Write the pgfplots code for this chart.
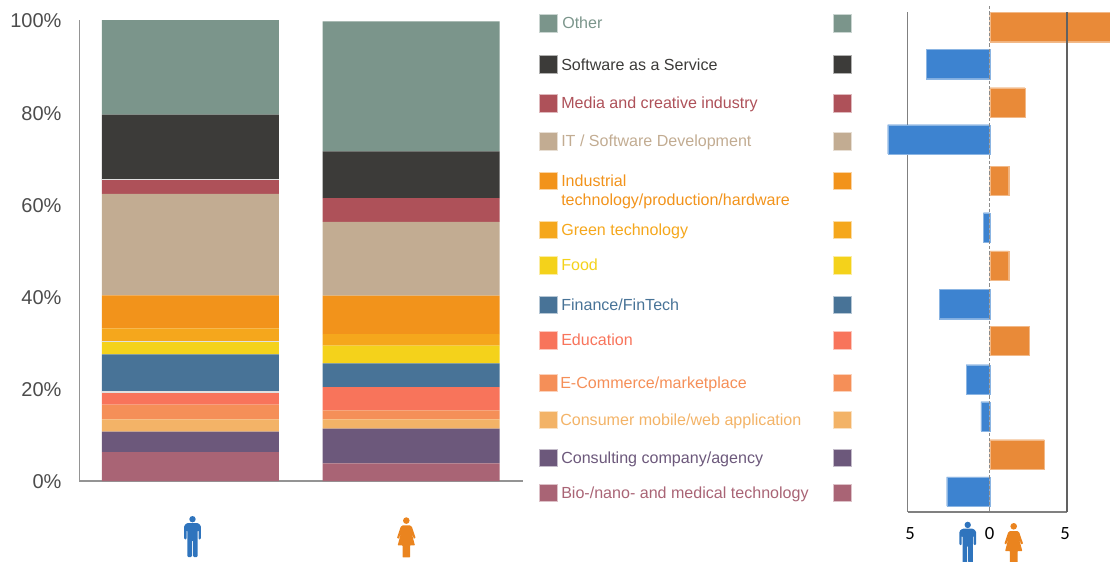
\documentclass[border=0pt]{standalone}
\usepackage{fontspec}
\setmainfont{Liberation Sans}
\newfontfamily\calib{Carlito}
\usepackage{pgfplots}
\usepackage{pgfplotstable}
\pgfplotsset{compat=1.18}

\definecolor{cOther}{HTML}{7B958B}
\definecolor{cSaas}{HTML}{3C3B39}
\definecolor{cMedia}{HTML}{AE5159}
\definecolor{cIT}{HTML}{C2AC92}
\definecolor{cInd}{HTML}{F2931B}
\definecolor{cGreen}{HTML}{F5A71C}
\definecolor{cFood}{HTML}{F4D21B}
\definecolor{cFin}{HTML}{487397}
\definecolor{cEdu}{HTML}{F8745B}
\definecolor{cEcom}{HTML}{F58F58}
\definecolor{cCons}{HTML}{F3B367}
\definecolor{cAgency}{HTML}{6C587B}
\definecolor{cBio}{HTML}{A96475}
\definecolor{cMale}{HTML}{3D83D0}
\definecolor{cFemale}{HTML}{E98A38}
\definecolor{cMaleIcon}{HTML}{2F74BD}
\definecolor{cFemaleIcon}{HTML}{EA841F}

% share of each sector, percent (0 = men, 1 = women)
\pgfplotstableread{
x  bio  agency cons ecom edu  fin  food green ind  it    media saas  other
0  6.29 4.42   2.67 3.19 2.67 8.24 2.67 2.97  7.15 22.04 3.03  14.15 20.52
1  3.84 7.52   2.02 1.95 5.05 5.14 3.84 2.51  8.32 16.04 5.11  10.19 28.17
}\shares

% difference, y = pixel row of the bar centre
\pgfplotstableread{
y      v
64.0   -4.10
139.3  -6.60
227.3  -0.41
304.0  -3.26
379.3  -1.53
416.3  -0.58
491.5  -2.78
}\menmore
\pgfplotstableread{
y      v
27.0   7.78
102.3  2.28
180.8  1.23
265.5  1.23
340.8  2.56
454.3  3.53
}\womenmore

\newcommand{\seg}[2]{\addplot[fill=#1,draw=none] table[x=x,y=#2]{\shares};}
\newcommand{\swatch}[3][548]{\addplot[only marks,mark=square*,mark size=6.6pt,
  mark options={fill=#2,draw=#2!40,line width=0.3pt}] coordinates {(#1,#3) (842,#3)};}
\newcommand{\lab}[4][561]{\node[anchor=base west,inner sep=0pt,text=#2,font=\fontsize{12.05}{14}\selectfont] at (axis cs:#1,#3) {#4};}

% x centre, top row, colour, in picture pixels
\newcommand{\maleicon}[4][1]{\begin{scope}[x=0.75pt,y=-0.75pt,shift={(#2*0.75pt,-#3*0.75pt)},scale=#1]
  \fill[#4] (0,3.2) circle (3.2);
  \fill[#4,rounded corners=0.8pt] (-5.5,7) -- (5.5,7) -- (8.3,9.5) -- (8.3,23.5) -- (6,23.5)
    -- (6,14) -- (5.2,14) -- (5.2,41) -- (0.5,41) -- (0.5,24) -- (-0.5,24) -- (-0.5,41)
    -- (-5.2,41) -- (-5.2,14) -- (-6,14) -- (-6,23.5) -- (-8.3,23.5) -- (-8.3,9.5) -- cycle;
\end{scope}}
\newcommand{\femaleicon}[4][1]{\begin{scope}[x=0.75pt,y=-0.75pt,shift={(#2*0.75pt,-#3*0.75pt)},scale=#1]
  \fill[#4] (0,3.3) circle (3.3);
  \fill[#4,rounded corners=0.4pt] (-3.6,8) -- (3.6,8) -- (5.6,9.5) -- (9.3,20.5) -- (7.6,21.5) -- (5,14.5)
    -- (8.6,28) -- (3.8,28) -- (3.8,40) -- (-3.8,40) -- (-3.8,28) -- (-8.6,28) -- (-5,14.5)
    -- (-7.6,21.5) -- (-9.3,20.5) -- (-5.6,9.5) -- cycle;
\end{scope}}

\begin{document}
\begin{tikzpicture}
\path[use as bounding box] (0,0) rectangle (832.5pt,-420.75pt);

% stacked bars
\begin{axis}[
  at={(79.5*0.75pt,-481*0.75pt)},anchor=south west,
  scale only axis,width=332.25pt,height=345.75pt,
  ybar stacked,bar width=132.75pt,
  xmin=-0.502,xmax=1.505,ymin=0,ymax=100,
  axis x line=bottom,axis y line=left,
  axis line style={-,draw=black!42,line width=1pt},
  xtick=\empty,ytick={0,20,40,60,80,100},
  major tick length=0pt,
  /pgf/number format/assume math mode=true,
  yticklabel={\pgfmathprintnumber{\tick}\%},
  yticklabel style={font=\fontsize{15}{18}\selectfont,text=black!70,xshift=-10pt,yshift=-0.8pt},
]
\seg{cBio}{bio}
\seg{cAgency}{agency}
\seg{cCons}{cons}
\seg{cEcom}{ecom}
\seg{cEdu}{edu}
\seg{cFin}{fin}
\seg{cFood}{food}
\seg{cGreen}{green}
\seg{cInd}{ind}
\seg{cIT}{it}
\seg{cMedia}{media}
\seg{cSaas}{saas}
\seg{cOther}{other}
\end{axis}

% difference bars
\begin{axis}[
  at={(907.7*0.75pt,-512*0.75pt)},anchor=south west,
  scale only axis,width=119.5pt,height=375pt,
  xbar,bar width=22pt,bar shift=0pt,
  xmin=-5.304,xmax=5,ymin=12,ymax=512,y dir=reverse,
  clip=false,
  axis x line=bottom,axis y line=left,
  axis line style={-,draw=black!50,line width=0.8pt},
  xtick={-5.15,0,4.87},xticklabels={5,0,5},
  ytick=\empty,major tick length=0pt,
  xticklabel style={font=\calib\fontsize{14}{16}\selectfont,text=black,yshift=-8pt},
]
\addplot[fill=cMale,draw=cMale!60!white,line width=0.2pt] table[x=v,y=y]{\menmore};
\addplot[fill=cFemale,draw=cFemale!60!white,line width=0.2pt] table[x=v,y=y]{\womenmore};
\draw[black!62,line width=1.1pt] (axis cs:5,12) -- (axis cs:5,512);
\draw[black!45,line width=0.8pt,dash pattern=on 2.5pt off 1.5pt] (axis cs:0,6) -- (axis cs:0,512);
\end{axis}

% legend, in picture pixels
\begin{axis}[
  at={(0,0)},anchor=north west,
  scale only axis,width=832.5pt,height=420.75pt,
  xmin=0,xmax=1110,ymin=0,ymax=561,y dir=reverse,
  hide axis,clip=false,
]
% pale seams in the first bar
\draw[white!88!black,line width=0.8pt] (axis cs:102,179.4) -- (axis cs:279,179.4);
\draw[white!88!black,line width=0.8pt] (axis cs:102,341.7) -- (axis cs:279,341.7);
\draw[white!88!black,line width=0.8pt] (axis cs:102,392) -- (axis cs:279,392);
\swatch{cOther}{23}
\swatch{cSaas}{64}
\swatch{cMedia}{103}
\swatch{cIT}{141}
\swatch{cInd}{180.5}
\swatch{cGreen}{229.5}
\swatch{cFood}{265}
\swatch{cFin}{304.7}
\swatch{cEdu}{340}
\swatch{cEcom}{382.5}
\swatch{cCons}{419.7}
\swatch{cAgency}{457.7}
\swatch{cBio}{492.7}
\lab[562]{cOther}{28.3}{Other}
\lab{cSaas}{70}{Software as a Service}
\lab{cMedia}{108.3}{Media and creative industry}
\lab{cIT}{146.7}{IT / Software Development}
\lab{cInd}{186}{Industrial}
\lab{cInd}{205.7}{technology/production/hardware}
\lab{cGreen}{235}{Green technology}
\lab{cFood}{270.7}{Food}
\lab{cFin}{310}{Finance/FinTech}
\lab{cEdu}{345.7}{Education}
\lab[560]{cEcom}{388.3}{E-Commerce/marketplace}
\lab[560]{cCons}{425}{Consumer mobile/web application}
\lab{cAgency}{463.3}{Consulting company/agency}
\lab{cBio}{498.3}{Bio-/nano- and medical technology}
\end{axis}

\maleicon{192.5}{516}{cMaleIcon}
\femaleicon{406.3}{517.3}{cFemaleIcon}
\maleicon{967.7}{521.7}{cMaleIcon}
\femaleicon{1013.7}{523}{cFemaleIcon}
\end{tikzpicture}
\end{document}
